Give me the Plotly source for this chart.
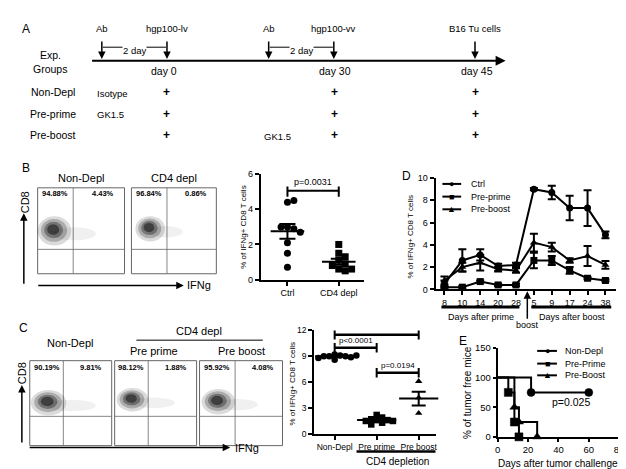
import numpy as np
import plotly.graph_objects as go

W, H = 626, 469
FONT = "Liberation Sans, Arial, sans-serif"

# ---------------- data ----------------
# Panel A (schematic)
timeline_events = ["Ab", "hgp100-lv", "Ab", "hgp100-vv", "B16 Tu cells"]
timeline_days = ["day 0", "day 30", "day 45"]
group_rows = ["Non-Depl", "Pre-prime", "Pre-boost"]
group_ab_prime = ["Isotype", "GK1.5", ""]
group_ab_boost = ["", "", "GK1.5"]

# Panel B flow
b_flow_titles = ["Non-Depl", "CD4 depl"]
b_flow_pct = [("94.88%", "4.43%"), ("96.84%", "0.86%")]
# Panel B dot plot
b_groups = ["Ctrl", "CD4 depl"]
b_ctrl = [4.4, 4.5, 3.0, 2.9, 3.0, 2.7, 2.1, 1.5, 0.7]
b_cd4 = [2.0, 1.5, 1.3, 1.1, 0.9, 0.8, 0.6, 0.6, 0.5]
b_means = [2.75, 1.02]
b_sems = [0.42, 0.17]
b_pval = "p=0.0031"

# Panel C flow
c_flow_titles = ["Non-Depl", "Pre prime", "Pre boost"]
c_flow_pct = [("90.19%", "9.81%"), ("98.12%", "1.88%"), ("95.92%", "4.08%")]
# Panel C dot plot
c_groups = ["Non-Depl", "Pre prime", "Pre boost"]
c_nondepl = [9.2, 9.1, 9.0, 9.0, 9.0, 8.9, 8.8, 8.6, 9.1]
c_preprime = [2.2, 1.9, 1.7, 1.6, 1.6, 1.5, 1.5, 1.3, 1.1]
c_preboost = [6.1, 4.2, 2.4]
c_means = [9.0, 1.6, 4.1]
c_sems = [0.1, 0.1, 0.8]
c_pvals = [("p=0.001", 0, 2, 11.5), ("p<0.0001", 0, 1, 10.0), ("p=0.0194", 1, 2, 7.1)]

# Panel D time course
d_days = ["8", "10", "14", "20", "28", "5", "9", "17", "24", "38"]
d_ctrl = [0.5, 2.6, 3.1, 2.1, 2.2, 9.0, 8.7, 7.3, 7.3, 4.9]
d_ctrl_err = [0.3, 1.0, 0.5, 0.2, 0.2, 0.1, 0.6, 1.1, 1.6, 0.3]
d_preprime = [0.2, 0.2, 0.7, 0.4, 0.4, 2.6, 2.6, 1.7, 1.0, 0.8]
d_preprime_err = [0.1, 0.1, 0.1, 0.1, 0.1, 0.7, 0.4, 0.3, 0.1, 0.1]
d_preboost = [0.8, 2.0, 2.4, 1.8, 1.7, 4.2, 3.8, 2.6, 3.0, 2.2]
d_preboost_err = [0.35, 0.4, 0.7, 0.2, 0.2, 0.8, 0.4, 0.2, 0.9, 0.35]

# Panel E survival
e_nondepl_days = [0, 22, 60]
e_nondepl_pct = [100, 75, 75]
e_preprime_days = [0, 7, 11, 14]
e_preprime_pct = [100, 75, 25, 0]
e_preboost_days = [0, 11, 14, 26]
e_preboost_pct = [100, 50, 25, 0]
e_pval = "p=0.025"

# ---------------- helpers ----------------
def X(px):
    return px / W

def Y(py):
    return 1 - py / H

ann = []
shapes = []

def T(px, py, s, size=10, xa="center", ya="middle", angle=0, bold=False, bg=None):
    d = dict(x=X(px), y=Y(py), xref="paper", yref="paper",
             text=f"<b>{s}</b>" if bold else s, showarrow=False,
             font=dict(size=size, family=FONT, color="black"),
             xanchor=xa, yanchor=ya, textangle=angle, borderpad=0)
    if bg:
        d["bgcolor"] = bg
    ann.append(d)

def ARROW(x0, y0, x1, y1, width=1.5, head=2, size=1.0):
    ann.append(dict(x=X(x1), y=Y(y1), xref="paper", yref="paper",
                    ax=x0 - x1, ay=y0 - y1, text="", showarrow=True,
                    arrowhead=head, arrowsize=size, arrowwidth=width,
                    arrowcolor="black"))

def LINE(x0, y0, x1, y1, w=1.0, color="black"):
    shapes.append(dict(type="line", xref="paper", yref="paper",
                       x0=X(x0), y0=Y(y0), x1=X(x1), y1=Y(y1),
                       line=dict(color=color, width=w)))

def RECT(x0, y0, x1, y1, color="#666", w=1):
    shapes.append(dict(type="rect", xref="paper", yref="paper",
                       x0=X(x0), y0=Y(y1), x1=X(x1), y1=Y(y0),
                       line=dict(color=color, width=w)))

def ELL(cx, cy, rx, ry, op):
    shapes.append(dict(type="circle", xref="paper", yref="paper",
                       x0=X(cx - rx), x1=X(cx + rx), y0=Y(cy + ry), y1=Y(cy - ry),
                       fillcolor="black", opacity=op, line=dict(width=0)))

def cloud(cx, cy, rx, ry, tail):
    ELL((cx + tail) / 2 + 2, cy + 3, (tail - cx) / 2 + 4, ry * 0.45, 0.06)
    for s, op in [(1.0, 0.14), (0.78, 0.22), (0.56, 0.32), (0.36, 0.45)]:
        ELL(cx - 2 * (1 - s), cy - 2 * (1 - s), rx * s, ry * s, op)

def swarm(vals, ypx, xpx, d):
    placed, offs = [], []
    for v in vals:
        y = v * ypx
        cands = [0]
        for k in range(1, 12):
            cands += [k * d, -k * d]
        for c in cands:
            if all((c - px) ** 2 + (y - py) ** 2 >= d * d * 0.85 for px, py in placed):
                placed.append((c, y))
                offs.append(c / xpx)
                break
    return offs

# ---------------- Panel A ----------------
T(15, 15, "A", 12)
ARROW(86, 48, 501, 48, width=2, head=2, size=1.0)
ev_x = [92, 158, 261, 327, 470]
for name, x in zip(timeline_events, ev_x):
    ARROW(x, 27, x, 46, width=1.5, head=2, size=1.0)
    T(x, 15, name, 9.5)
for xa, xb in [(93, 157), (262, 326)]:
    LINE(xa, 34, xb, 34, 1)
    T((xa + xb) / 2, 37, "2 day", 9.5, bg="white")
T(40, 42, "Exp.", 10.5)
T(40, 56, "Groups", 10.5)
for name, x in zip(timeline_days, [155, 328, 472]):
    T(x, 58, name, 10.5)
row_y = [80, 102, 124]
for name, y, a1, a2 in zip(group_rows, row_y, group_ab_prime, group_ab_boost):
    T(43, y, name, 10.5)
    if a1:
        T(86, y + 1, a1, 9.5, xa="left")
    if a2:
        T(255, y + 1, a2, 9.5, xa="left")
    for x in [158, 328, 471]:
        T(x, y, "+", 12, bold=True)

# ---------------- Panel B flow ----------------
T(15, 158, "B", 12)
b_boxes = [(27, 115, 63), (122, 208, 158)]
for (x0, x1, xv), title, (pl, pr) in zip(b_boxes, b_flow_titles, b_flow_pct):
    T((x0 + x1) / 2, 168, title, 11)
    RECT(x0, 178, x1, 266)
    LINE(xv, 178, xv, 266, 0.8, "#666")
    LINE(x0, 241, x1, 241, 0.8, "#666")
    T((x0 + xv) / 2, 184, pl, 7.5, bold=True)
    T((xv + x1) / 2 + 4, 184, pr, 7.5, bold=True)
cloud(44, 222, 17, 15, 80)
cloud(141, 220, 15, 13, 168)
T(15, 193, "CD8", 11, angle=-90)
ARROW(13, 276, 13, 204, width=1.5)
ARROW(28, 278, 175, 278, width=1.5)
T(177, 278, "IFNg", 11, xa="left")

# ---------------- Panel C flow ----------------
T(13, 322, "C", 12)
c_boxes = [(19, 102, 53), (105, 188, 139), (191, 275, 227)]
T(60, 337, c_flow_titles[0], 11)
T(190, 325, "CD4 depl", 11)
LINE(127, 334, 255, 334, 1)
T(145, 345, c_flow_titles[1], 11)
T(233, 345, c_flow_titles[2], 11)
for (x0, x1, xv), (pl, pr) in zip(c_boxes, c_flow_pct):
    RECT(x0, 355, x1, 442)
    LINE(xv, 355, xv, 442, 0.8, "#666")
    LINE(x0, 412, x1, 412, 0.8, "#666")
    T((x0 + xv) / 2, 362, pl, 7.5, bold=True)
    T((xv + x1) / 2 + 4, 362, pr, 7.5, bold=True)
cloud(38, 398, 18, 13, 80)
cloud(123, 395, 16, 12, 160)
cloud(210, 397, 17, 13, 244)
T(12, 368, "CD8", 11, angle=-90)
ARROW(11, 439, 11, 380, width=1.5)
ARROW(20, 444, 222, 444, width=1.5)
T(226, 444, "IFNg", 11, xa="left")

# ---------------- figure ----------------
fig = go.Figure()

def axstyle(size=9, **kw):
    d = dict(showline=True, linecolor="black", linewidth=2, ticks="outside",
             ticklen=4, tickwidth=1.5, tickcolor="black", showgrid=False,
             zeroline=False, fixedrange=True,
             tickfont=dict(size=size, family=FONT, color="black"))
    d.update(kw)
    return d

# Panel B dot plot (x, y)
b_ypx, b_xpx = 18.0, 52.0
for gi, (vals, sym) in enumerate([(b_ctrl, "circle"), (b_cd4, "square")]):
    offs = swarm(vals, b_ypx, b_xpx, 6.5)
    fig.add_trace(go.Scatter(x=[gi + o for o in offs], y=vals, mode="markers",
                             marker=dict(symbol=sym, size=7, color="black"),
                             xaxis="x", yaxis="y", showlegend=False, cliponaxis=False))
fig.add_trace(go.Scatter(x=[0, 1], y=b_means, mode="markers",
                         marker=dict(symbol="line-ew", size=24, line=dict(width=2, color="black")),
                         error_y=dict(type="data", array=b_sems, width=8, thickness=2, color="black"),
                         xaxis="x", yaxis="y", showlegend=False, cliponaxis=False))
T(236, 218, "% of IFNg+ CD8 T cells", 8, angle=-90)
shapes.append(dict(type="line", xref="x", yref="y", x0=0, x1=1, y0=5.05, y1=5.05, line=dict(width=2, color="black")))
for xx in (0, 1):
    shapes.append(dict(type="line", xref="x", yref="y", x0=xx, x1=xx, y0=4.72, y1=5.3, line=dict(width=2, color="black")))
ann.append(dict(x=0.5, y=5.55, xref="x", yref="y", text=b_pval, showarrow=False,
                font=dict(size=9, family=FONT, color="black")))

# Panel D (x2, y2)
for vals, err, sym in [(d_ctrl, d_ctrl_err, "circle"), (d_preprime, d_preprime_err, "square"),
                       (d_preboost, d_preboost_err, "triangle-up")]:
    fig.add_trace(go.Scatter(x=d_days, y=vals, mode="lines+markers",
                             line=dict(color="black", width=2),
                             marker=dict(symbol=sym, size=7, color="black"),
                             error_y=dict(type="data", array=err, width=4, thickness=2, color="black"),
                             xaxis="x2", yaxis="y2", showlegend=False, cliponaxis=False))
T(401, 166, "D", 12)
T(405, 228, "% of IFNg+ CD8 T cells", 8, angle=-90)
for (lab, glyph), yy in zip([("Ctrl", "●"), ("Pre-prime", "■"), ("Pre-boost", "▲")], [174, 187, 200]):
    LINE(437, yy, 456, yy, 2)
    T(446.5, yy, glyph, 9)
    T(465, yy, lab, 9, xa="left")
LINE(436, 300, 515, 300, 3)
LINE(527, 300, 608, 300, 3)
T(476, 310, "Days after prime", 9)
T(568, 310, "Days after boost", 9)
ann.append(dict(x=X(523), y=Y(284), xref="paper", yref="paper", text="boost", ax=0, ay=34,
                showarrow=True, arrowhead=2, arrowsize=1, arrowwidth=1.5, arrowcolor="black",
                font=dict(size=9, family=FONT, color="black")))

# Panel C dot plot (x3, y3)
c_ypx, c_xpx = 8.85, 42.6
for gi, (vals, sym) in enumerate([(c_nondepl, "circle"), (c_preprime, "square"),
                                  (c_preboost, "triangle-up")]):
    offs = swarm(vals, c_ypx, c_xpx, 5.5)
    fig.add_trace(go.Scatter(x=[gi + o for o in offs], y=vals, mode="markers",
                             marker=dict(symbol=sym, size=6.5, color="black"),
                             xaxis="x3", yaxis="y3", showlegend=False, cliponaxis=False))
fig.add_trace(go.Scatter(x=[0, 1, 2], y=c_means, mode="markers",
                         marker=dict(symbol="line-ew", size=28, line=dict(width=2, color="black")),
                         error_y=dict(type="data", array=c_sems, width=7, thickness=2, color="black"),
                         xaxis="x3", yaxis="y3", showlegend=False, cliponaxis=False))
T(285, 378, "% of IFNg+ CD8 T cells", 8, angle=-90)
for lab, g0, g1, yv in c_pvals:
    shapes.append(dict(type="line", xref="x3", yref="y3", x0=g0, x1=g1, y0=yv, y1=yv,
                       line=dict(width=2.5, color="black")))
    for xx in (g0, g1):
        shapes.append(dict(type="line", xref="x3", yref="y3", x0=xx, x1=xx, y0=yv - 0.55, y1=yv + 0.55,
                           line=dict(width=2, color="black")))
    ann.append(dict(x=(g0 + g1) / 2, y=yv + 0.85, xref="x3", yref="y3", text=lab, showarrow=False,
                    font=dict(size=8, family=FONT, color="black")))
LINE(350, 448, 430, 448, 2.5)
T(392, 458, "CD4 depletion", 10)

# Panel E (x4, y4)
for days, pct, sym in [(e_nondepl_days, e_nondepl_pct, "circle"),
                       (e_preprime_days, e_preprime_pct, "square"),
                       (e_preboost_days, e_preboost_pct, "triangle-up")]:
    fig.add_trace(go.Scatter(x=days, y=pct, mode="lines+markers", line_shape="hv",
                             line=dict(color="black", width=2),
                             marker=dict(symbol=sym, size=[0] + [8] * (len(days) - 1), color="black",
                                         opacity=1, line=dict(width=0.5, color="black")),
                             xaxis="x4", yaxis="y4", showlegend=False, cliponaxis=False))
T(458, 335, "E", 12)
T(463, 388, "% of tumor free mice", 10, angle=-90)
T(554, 460, "Days after tumor challenge", 10)
T(567, 397, e_pval, 10.5)
for (lab, glyph), yy in zip([("Non-Depl", "●"), ("Pre-Prime", "■"), ("Pre-Boost", "▲")], [345, 358, 370]):
    LINE(533, yy, 553, yy, 2)
    T(543, yy, glyph, 9)
    T(560, yy, lab, 9, xa="left")

fig.update_layout(
    width=W, height=H, margin=dict(l=0, r=0, t=0, b=0),
    paper_bgcolor="white", plot_bgcolor="white",
    font=dict(family=FONT, color="black"),
    xaxis=axstyle(domain=[X(253), X(358)], range=[-0.52, 1.5], anchor="y",
                  tickvals=[0, 1], ticktext=b_groups),
    yaxis=axstyle(domain=[Y(272), Y(164)], range=[0, 6], anchor="x", tickvals=[0, 2, 4, 6]),
    xaxis2=axstyle(domain=[X(430), X(613)], type="category", range=[-0.5, 9.6], anchor="y2"),
    yaxis2=axstyle(domain=[Y(282), Y(168)], range=[0, 10], anchor="x2", tickvals=[0, 2, 4, 6, 8, 10]),
    xaxis3=axstyle(size=8.5, domain=[X(307), X(430)], range=[-0.49, 2.4], anchor="y3",
                   tickvals=[0, 1, 2], ticktext=c_groups),
    yaxis3=axstyle(size=8.5, domain=[Y(430), Y(324)], range=[0, 12], anchor="x3", tickvals=[0, 3, 6, 9, 12]),
    xaxis4=axstyle(size=9.5, domain=[X(493), X(616)], range=[0, 80], anchor="y4", tickvals=[0, 20, 40, 60, 80],
                   ticklen=3),
    yaxis4=axstyle(size=9.5, domain=[Y(433), Y(342)], range=[0, 150], anchor="x4", tickvals=[0, 50, 100, 150],
                   ticklen=3),
    annotations=ann, shapes=shapes, showlegend=False,
)

fig.write_html("out.html")
